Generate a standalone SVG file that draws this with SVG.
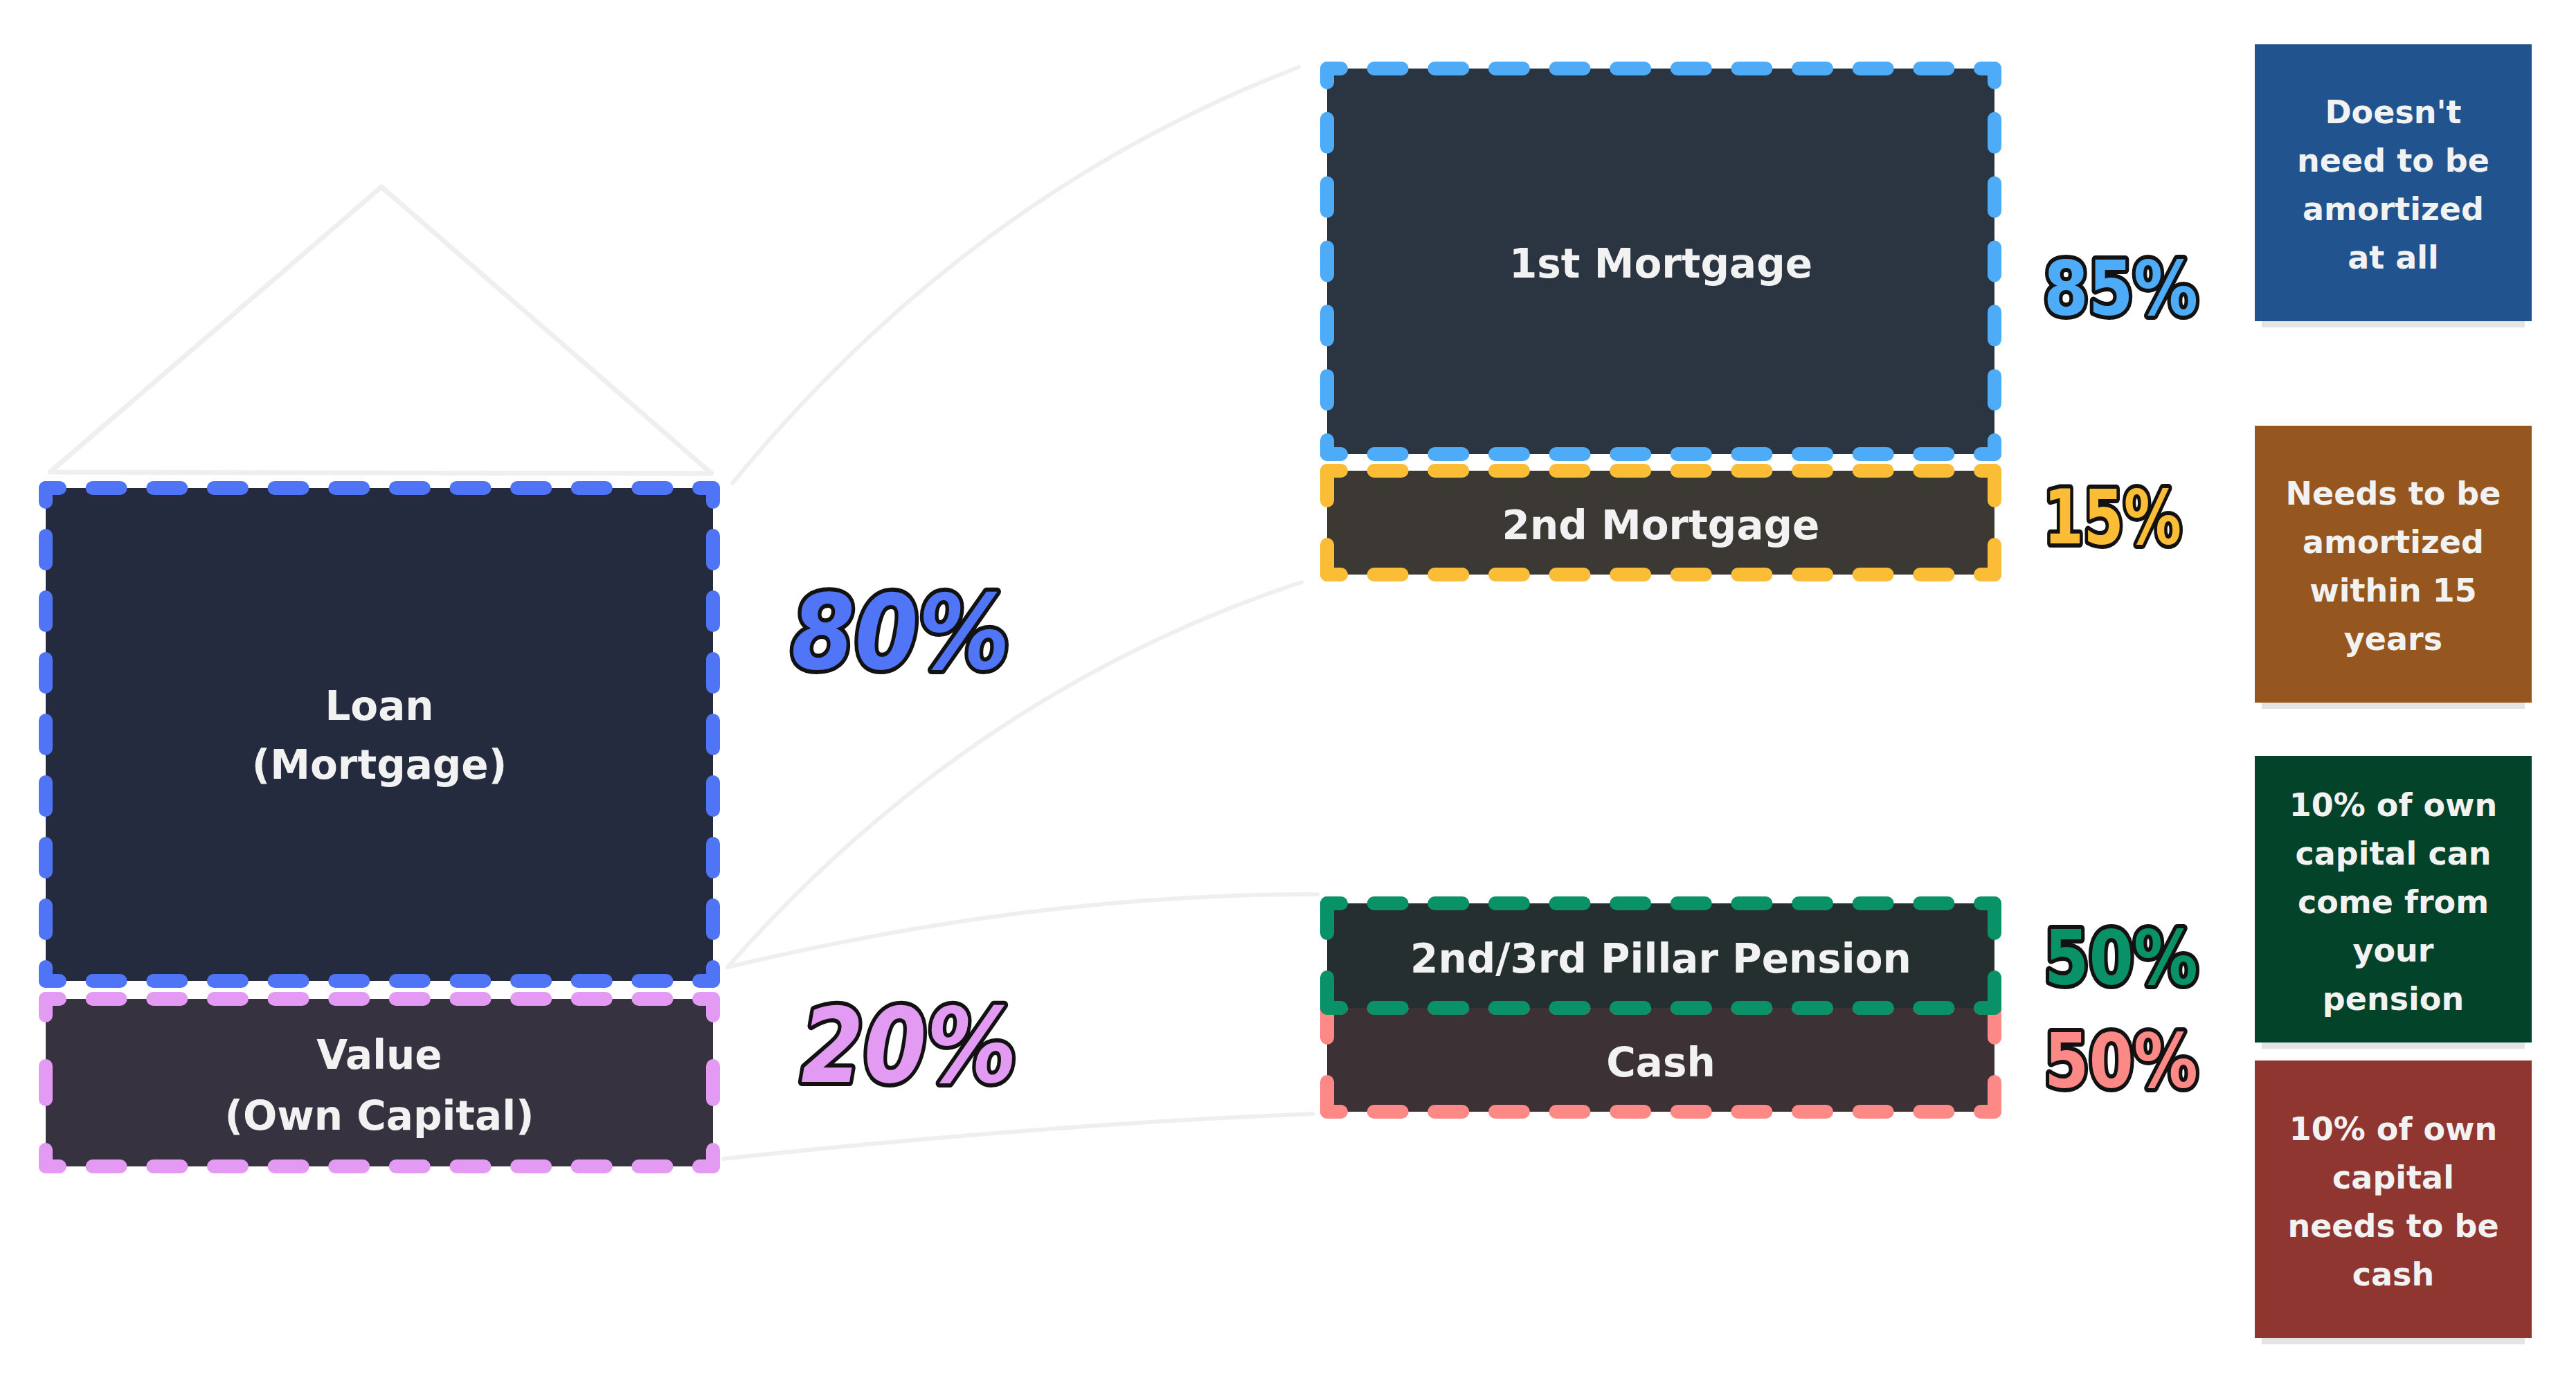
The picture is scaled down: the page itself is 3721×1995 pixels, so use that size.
<svg xmlns="http://www.w3.org/2000/svg" width="3721" height="1995" viewBox="0 0 3721 1995">
<style>
.bg{fill:#ffffff}
.conn{fill:none;stroke:#efefef;stroke-width:6;stroke-linecap:round}
.roof{fill:none;stroke:#efefef;stroke-width:7;stroke-linejoin:round;stroke-linecap:round}
.dash line{stroke-width:20;stroke-linecap:round;fill:none}
.h{stroke-dasharray:40 47.64;stroke-dashoffset:20}
.v712{stroke-dasharray:40 49;stroke-dashoffset:20}
.v557{stroke-dasharray:40 52.83;stroke-dashoffset:20}
.v242{stroke-dasharray:48 73;stroke-dashoffset:24}
.v150{stroke-dasharray:86 64;stroke-dashoffset:43}
.lbl{font-family:"DejaVu Sans","Liberation Sans",sans-serif;font-weight:700;font-size:58px;fill:#f2f2f2;text-anchor:middle}
.note{font-family:"DejaVu Sans","Liberation Sans",sans-serif;font-weight:700;font-size:46px;fill:#f2f2f2;text-anchor:middle}
.pct{font-family:"DejaVu Sans","Liberation Sans",sans-serif;font-weight:700;stroke:#121212;stroke-width:12;stroke-linejoin:round;paint-order:stroke}
.shadow{fill:#e4e4e4}
</style>
<rect class="bg" x="0" y="0" width="3721" height="1995"/>

<g id="connectors">
<path class="roof" d="M 72 682 L 551 270 L 1028 684 Z"/>
<path class="conn" d="M 1058 698 Q 1400 280 1876 97"/>
<path class="conn" d="M 1051 1397 Q 1400 1000 1880 841"/>
<path class="conn" d="M 1051 1397 Q 1500 1290 1903 1292"/>
<path class="conn" d="M 1045 1674 Q 1500 1625 1897 1609"/>
</g>

<g id="loan" class="dash">
<rect x="66" y="705" width="964" height="712" fill="#252b3f"/>
<g stroke="#4f74f6">
<line class="h" x1="66" y1="705" x2="1030" y2="705"/>
<line class="h" x1="66" y1="1417" x2="1030" y2="1417"/>
<line class="v712" x1="66" y1="705" x2="66" y2="1417"/>
<line class="v712" x1="1030" y1="705" x2="1030" y2="1417"/>
</g>
<text class="lbl" x="548" y="1040">Loan</text>
<text class="lbl" x="548" y="1125">(Mortgage)</text>
</g>

<g id="value" class="dash">
<rect x="66" y="1443" width="964" height="242" fill="#373240"/>
<g stroke="#e39af2">
<line class="h" x1="66" y1="1443" x2="1030" y2="1443"/>
<line class="h" x1="66" y1="1685" x2="1030" y2="1685"/>
<line class="v242" x1="66" y1="1443" x2="66" y2="1685"/>
<line class="v242" x1="1030" y1="1443" x2="1030" y2="1685"/>
</g>
<text class="lbl" x="548" y="1544">Value</text>
<text class="lbl" x="548" y="1632">(Own Capital)</text>
</g>

<g id="pct80"><text class="pct" x="1143" y="966" font-size="149" font-style="italic" fill="#5075f7" textLength="316" lengthAdjust="spacingAndGlyphs">80%</text></g>
<g id="pct20"><text class="pct" x="1157" y="1563" font-size="150" font-style="italic" fill="#e39af2" textLength="312" lengthAdjust="spacingAndGlyphs">20%</text></g>

<g id="mortgage1" class="dash">
<rect x="1917" y="99" width="964" height="557" fill="#2a3541"/>
<g stroke="#4dabf7">
<line class="h" x1="1917" y1="99" x2="2881" y2="99"/>
<line class="h" x1="1917" y1="656" x2="2881" y2="656"/>
<line class="v557" x1="1917" y1="99" x2="1917" y2="656"/>
<line class="v557" x1="2881" y1="99" x2="2881" y2="656"/>
</g>
<text class="lbl" x="2399" y="401">1st Mortgage</text>
</g>

<g id="mortgage2" class="dash">
<rect x="1917" y="680" width="964" height="150" fill="#3c3833"/>
<g stroke="#fbbd35">
<line class="h" x1="1917" y1="680" x2="2881" y2="680"/>
<line class="h" x1="1917" y1="830" x2="2881" y2="830"/>
<line class="v150" x1="1917" y1="680" x2="1917" y2="830"/>
<line class="v150" x1="2881" y1="680" x2="2881" y2="830"/>
</g>
<text class="lbl" x="2399" y="779">2nd Mortgage</text>
</g>

<g id="cash" class="dash">
<rect x="1917" y="1456" width="964" height="150" fill="#3c3135"/>
<g stroke="#fd8987">
<line class="h" x1="1917" y1="1456" x2="2881" y2="1456"/>
<line class="h" x1="1917" y1="1606" x2="2881" y2="1606"/>
<line class="v150" x1="1917" y1="1456" x2="1917" y2="1606"/>
<line class="v150" x1="2881" y1="1456" x2="2881" y2="1606"/>
</g>
<text class="lbl" x="2399" y="1555">Cash</text>
</g>

<g id="pension" class="dash">
<rect x="1917" y="1305" width="964" height="151" fill="#252f2f"/>
<g stroke="#099268">
<line class="h" x1="1917" y1="1305" x2="2881" y2="1305"/>
<line class="h" x1="1917" y1="1456" x2="2881" y2="1456"/>
<line class="v150" x1="1917" y1="1305" x2="1917" y2="1456"/>
<line class="v150" x1="2881" y1="1305" x2="2881" y2="1456"/>
</g>
<text class="lbl" x="2399" y="1405">2nd/3rd Pillar Pension</text>
</g>

<g id="pct85"><text class="pct" x="2952" y="454" font-size="108" fill="#4dabf7" textLength="223" lengthAdjust="spacingAndGlyphs">85%</text></g>
<g id="pct15"><text class="pct" x="2952" y="785" font-size="108" fill="#fbbd35" textLength="199" lengthAdjust="spacingAndGlyphs">15%</text></g>
<g id="pct50a"><text class="pct" x="2953" y="1421" font-size="108" fill="#099268" textLength="222" lengthAdjust="spacingAndGlyphs">50%</text></g>
<g id="pct50b"><text class="pct" x="2953" y="1570" font-size="108" fill="#fd8987" textLength="222" lengthAdjust="spacingAndGlyphs">50%</text></g>

<g id="note-blue">
<rect class="shadow" x="3267" y="464" width="380" height="9"/>
<rect x="3257" y="64" width="400" height="400" fill="#21548f"/>
<text class="note" x="3457" y="178">Doesn't</text>
<text class="note" x="3457" y="248">need to be</text>
<text class="note" x="3457" y="318">amortized</text>
<text class="note" x="3457" y="388">at all</text>
</g>

<g id="note-brown">
<rect class="shadow" x="3267" y="1015" width="380" height="9"/>
<rect x="3257" y="615" width="400" height="400" fill="#95571f"/>
<text class="note" x="3457" y="729">Needs to be</text>
<text class="note" x="3457" y="799">amortized</text>
<text class="note" x="3457" y="869">within 15</text>
<text class="note" x="3457" y="939">years</text>
</g>

<g id="note-green">
<rect class="shadow" x="3267" y="1506" width="380" height="9"/>
<rect x="3257" y="1092" width="400" height="414" fill="#03432a"/>
<text class="note" x="3457" y="1179">10% of own</text>
<text class="note" x="3457" y="1249">capital can</text>
<text class="note" x="3457" y="1319">come from</text>
<text class="note" x="3457" y="1389">your</text>
<text class="note" x="3457" y="1459">pension</text>
</g>

<g id="note-red">
<rect class="shadow" x="3267" y="1933" width="380" height="9"/>
<rect x="3257" y="1532" width="400" height="401" fill="#8f3631"/>
<text class="note" x="3457" y="1647">10% of own</text>
<text class="note" x="3457" y="1717">capital</text>
<text class="note" x="3457" y="1787">needs to be</text>
<text class="note" x="3457" y="1857">cash</text>
</g>
</svg>
